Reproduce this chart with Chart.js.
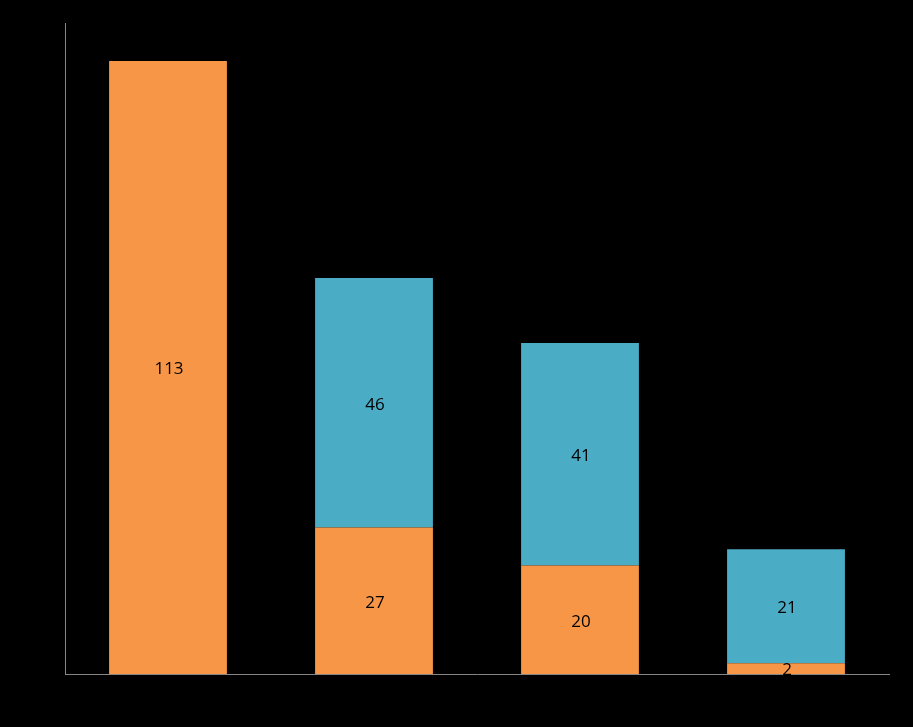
<!DOCTYPE html>
<html>
<head>
<meta charset="utf-8">
<script src="https://cdn.jsdelivr.net/npm/chart.js@4"></script>
<style>
  html, body { margin: 0; padding: 0; background: #000; }
  #wrap { width: 913px; height: 727px; position: relative; }
</style>
</head>
<body>
<div id="wrap"><canvas id="c"></canvas></div>
<script>
const categories = ["1", "2", "3", "4"];
const seriesOrange = [113, 27, 20, 2];
const seriesBlue = [null, 46, 41, 21];
const yMax = 120;

const labelPlugin = {
  id: 'segLabels',
  afterDatasetsDraw(chart) {
    const ctx = chart.ctx;
    ctx.save();
    ctx.fillStyle = '#000';
    ctx.font = '17px "Open Sans", "Noto Sans", sans-serif';
    ctx.textAlign = 'center';
    ctx.textBaseline = 'middle';
    chart.data.datasets.forEach((ds, di) => {
      const meta = chart.getDatasetMeta(di);
      meta.data.forEach((el, i) => {
        const v = ds.data[i];
        if (v === null || v === undefined) return;
        const p = el.getProps(['x', 'y', 'base'], true);
        ctx.fillText(String(v), p.x + 1, (p.y + p.base) / 2 + 2);
      });
    });
    ctx.restore();
  }
};

new Chart(document.getElementById('c'), {
  type: 'bar',
  data: {
    labels: categories,
    datasets: [
      { label: 'Series 1', data: seriesOrange, backgroundColor: '#F79646', borderWidth: 0,
        categoryPercentage: 1.0, barPercentage: 0.572 },
      { label: 'Series 2', data: seriesBlue, backgroundColor: '#4BACC6', borderWidth: 0,
        categoryPercentage: 1.0, barPercentage: 0.572 }
    ]
  },
  options: {
    responsive: true,
    maintainAspectRatio: false,
    animation: false,
    layout: { padding: { left: 57, right: 24, top: 23, bottom: 45 } },
    plugins: { legend: { display: false }, tooltip: { enabled: false } },
    scales: {
      x: {
        stacked: true,
        grid: { display: false },
        ticks: { display: false },
        border: { display: true, color: '#868686', width: 1 }
      },
      y: {
        stacked: true,
        min: 0,
        max: yMax,
        grid: { display: false },
        ticks: { display: false },
        border: { display: true, color: '#868686', width: 1 }
      }
    }
  },
  plugins: [labelPlugin]
});
</script>
</body>
</html>
